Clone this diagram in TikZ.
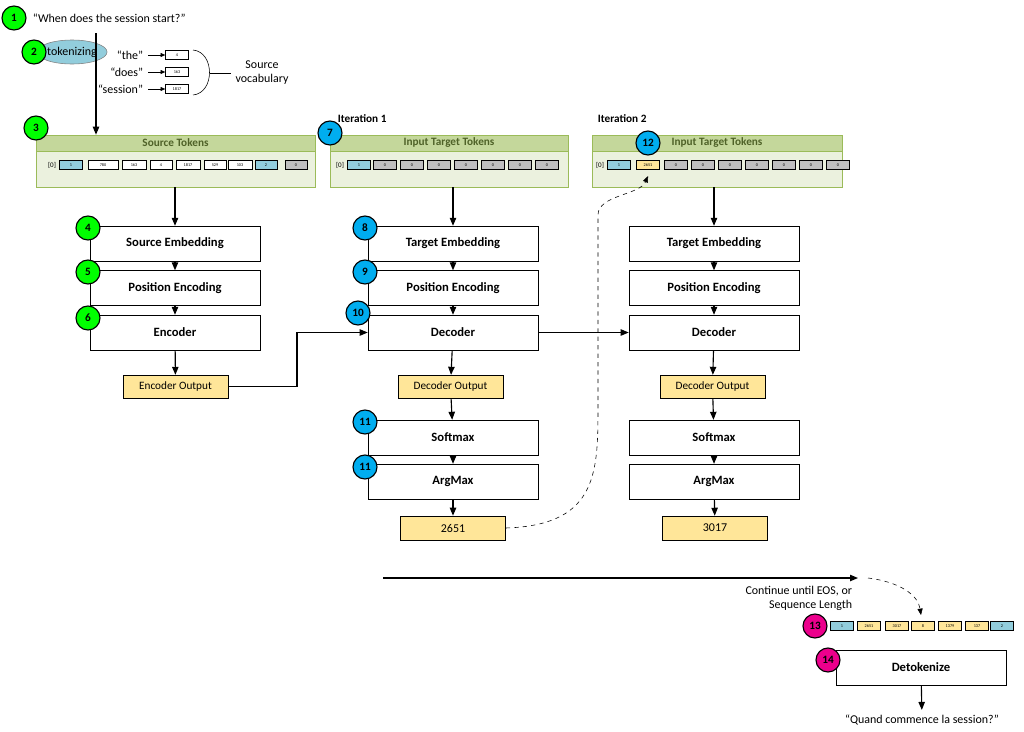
\documentclass[tikz,border=0pt]{standalone}
\usepackage{fontspec}
\setmainfont{Carlito}
\usetikzlibrary{arrows.meta, shapes.geometric}
\definecolor{panelfill}{HTML}{EBF1DE}
\definecolor{panelhead}{HTML}{C4D79B}
\definecolor{paneledge}{HTML}{9BBB59}
\definecolor{headtext}{HTML}{4F6228}
\definecolor{tokblue}{HTML}{92CDDC}
\definecolor{tokgray}{HTML}{BFBFBF}
\definecolor{tokyellow}{HTML}{FFE699}
\tikzset{
  stepmark/.style={circle, draw, thick, minimum size=6mm, inner sep=0pt, font=\bfseries\fontsize{8}{9}\selectfont},
  green step/.style={stepmark, fill=green},
  cyan step/.style={stepmark, fill=cyan},
  pink step/.style={stepmark, fill=magenta},
  block/.style={rectangle, draw, minimum width=4.25cm, minimum height=0.87cm, font=\bfseries\fontsize{9}{10}\selectfont},
  output/.style={rectangle, draw, fill=tokyellow, minimum width=2.63cm, minimum height=0.57cm, font=\fontsize{8}{9}\selectfont},
  tok/.style={rectangle, draw, minimum width=0.57cm, minimum height=0.22cm, inner sep=0pt, font=\fontsize{3}{3}\selectfont},
  arrow/.style={thick, -{Triangle[length=2mm, width=1.6mm]}},
  thin arrow/.style={-{Triangle[length=1.2mm, width=1mm]}},
  dash arrow/.style={dashed, -{Triangle[length=1.6mm, width=1.3mm]}},
  panel/.style={draw=paneledge, fill=panelfill},
  head/.style={draw=paneledge, fill=panelhead, font=\bfseries\fontsize{8}{9}\selectfont, text=headtext}
}
\begin{document}
\begin{tikzpicture}[x=0.025cm, y=-0.025cm, font=\fontsize{8.5}{10}\selectfont]
\useasboundingbox (0,0) rectangle (1024,731);

% input sentence and tokenizing
\node[green step] (s1) at (14,18) {1};
\node[anchor=west] (sentence) at (28,18) {“When does the session start?”};
\coordinate (srcin) at (96,33);
\node[ellipse, draw=gray, fill=tokblue, minimum width=1.55cm, minimum height=0.6cm, inner sep=0pt] (tokenize) at (72,52) {tokenizing};
\node[green step] (s2) at (34,52) {2};

% vocabulary lookups
\node[anchor=east] (wthe) at (148,55) {“the”};
\node[anchor=east] (wdoes) at (148,72) {“does”};
\node[anchor=east] (wsession) at (148,89) {“session”};
\node[tok, fill=white] (vthe) at (177,55) {4};
\node[tok, fill=white] (vdoes) at (177,72) {163};
\node[tok, fill=white] (vsession) at (177,89) {1817};
\draw[thin arrow] (wthe) -- (vthe);
\draw[thin arrow] (wdoes) -- (vdoes);
\draw[thin arrow] (wsession) -- (vsession);
\draw (193,50) .. controls (215,52) and (215,93) .. (193,95);
\node[align=center] (vocab) at (262,73) {Source\\vocabulary};
\draw (210,73) -- (vocab.west);

% source tokens panel
\draw[panel] (36,151) rectangle (315,187);
\node[head, minimum width=6.98cm, minimum height=0.4cm, inner sep=0pt] (srctok) at (175.5,143) {Source Tokens};
\node[green step] (s3) at (36,128) {3};
\node[font=\fontsize{5}{5}\selectfont] at (52,165) {[0]};
\foreach \x/\w/\c/\v in {71/23/tokblue/1, 103/30/white/780, 134/24/white/163, 161/22/white/4, 188/24/white/1817, 215/22/white/529, 240/24/white/103, 266/22/tokblue/2, 296/22/tokgray/0}
  \node[tok, fill=\c, minimum width=\w*0.025cm] at (\x,165) {\v};
\draw[arrow] (srcin) -- (srctok.north -| srcin);

% encoder column
\node[block] (srcemb) at (175,243.5) {Source Embedding};
\node[block] (srcpos) at (175,288) {Position Encoding};
\node[block] (encoder) at (175,332.5) {Encoder};
\node[output] (encout) at (175.5,386.5) {Encoder Output};
\node[green step] (s4) at (88,228) {4};
\node[green step] (s5) at (88,272) {5};
\node[green step] (s6) at (88,318) {6};
\draw[arrow] (175,187) -- (srcemb);
\draw[arrow] (srcemb) -- (srcpos);
\draw[arrow] (srcpos) -- (encoder);
\draw[arrow] (encoder) -- (encout);

% iteration 1
\node[anchor=west, font=\bfseries\fontsize{8}{9}\selectfont] (iter1) at (333,119) {Iteration 1};
\draw[panel] (330,151) rectangle (568,187);
\node[head, minimum width=5.95cm, minimum height=0.4cm, inner sep=0pt] (tgttok) at (449,143) {Input Target Tokens};
\node[cyan step] (s7) at (330,133) {7};
\node[font=\fontsize{5}{5}\selectfont] at (340,165) {[0]};
\node[tok, fill=tokblue] at (359,165) {1};
\foreach \i in {0,...,6}
  \node[tok, fill=tokgray] at (385+\i*27,165) {0};

\node[block] (tgtemb) at (453,243.5) {Target Embedding};
\node[block] (tgtpos) at (453,288) {Position Encoding};
\node[block] (decoder) at (453,332.5) {Decoder};
\node[output] (decout) at (450.5,386.5) {Decoder Output};
\node[block] (softmax) at (453,437.5) {Softmax};
\node[block] (argmax) at (453,481.5) {ArgMax};
\node[output, font=\fontsize{8.5}{10}\selectfont, minimum height=0.6cm] (pred1) at (453,528) {2651};
\node[cyan step] (s8) at (365,228) {8};
\node[cyan step] (s9) at (365,272) {9};
\node[cyan step] (s10) at (358,313) {10};
\node[cyan step] (s11a) at (365,422) {11};
\node[cyan step] (s11b) at (365,467) {11};
\draw[arrow] (453,187) -- (tgtemb);
\draw[arrow] (tgtemb) -- (tgtpos);
\draw[arrow] (tgtpos) -- (decoder);
\draw[arrow] (decoder) -- (decout);
\draw[arrow] (decout) -- (softmax);
\draw[arrow] (softmax) -- (argmax);
\draw[arrow] (argmax) -- (pred1);
\draw[arrow] (encout.east) -- (297,386.5) -- (297,332.5) -- (decoder.west);

% iteration 2
\node[anchor=west, font=\bfseries\fontsize{8}{9}\selectfont] (iter2) at (593,119) {Iteration 2};
\draw[panel] (592,151) rectangle (842,187);
\node[head, minimum width=6.25cm, minimum height=0.4cm, inner sep=0pt] (tgttok2) at (717,143) {Input Target Tokens};
\node[cyan step] (s12) at (648,143) {12};
\node[font=\fontsize{5}{5}\selectfont] at (600,165) {[0]};
\node[tok, fill=tokblue] (t2a) at (619,165) {1};
\node[tok, fill=tokyellow] (t2b) at (648,165) {2651};
\foreach \i in {0,...,6}
  \node[tok, fill=tokgray] at (676+\i*27,165) {0};

\node[block] (tgtemb2) at (714,243.5) {Target Embedding};
\node[block] (tgtpos2) at (714,288) {Position Encoding};
\node[block] (decoder2) at (714,332.5) {Decoder};
\node[output] (decout2) at (712.5,386.5) {Decoder Output};
\node[block] (softmax2) at (714,437.5) {Softmax};
\node[block] (argmax2) at (714,481.5) {ArgMax};
\node[output, font=\fontsize{8.5}{10}\selectfont, minimum height=0.6cm] (pred2) at (715,528) {3017};
\draw[arrow] (714,187) -- (tgtemb2);
\draw[arrow] (tgtemb2) -- (tgtpos2);
\draw[arrow] (tgtpos2) -- (decoder2);
\draw[arrow] (decoder2) -- (decout2);
\draw[arrow] (decout2) -- (softmax2);
\draw[arrow] (softmax2) -- (argmax2);
\draw[arrow] (argmax2) -- (pred2);
\draw[arrow] (decoder) -- (decoder2);
\draw[dash arrow] (pred1.east) .. controls (600,525) and (598,470) .. (598,400)
  -- (598,215) .. controls (598,195) and (640,195) .. (648,176);

% continue and result
\coordinate (contstart) at (383,578);
\coordinate (contend) at (858,578);
\draw[arrow] (contstart) -- (contend);
\node[anchor=north east, align=right] (contlabel) at (857,581) {Continue until EOS, or\\Sequence Length};
\draw[dash arrow] (868,578) .. controls (900,582) and (918,595) .. (921,615);
\node[pink step] (s13) at (815,626) {13};
\foreach \x/\c/\v in {842/tokblue/1, 869/tokyellow/2651, 897/tokyellow/3017, 923/tokyellow/8, 950/tokyellow/1379, 977/tokyellow/137, 1002/tokblue/2}
  \node[tok, fill=\c] at (\x,626) {\v};
\node[block] (detok) at (921,667.5) {Detokenize};
\node[pink step] (s14) at (828,660) {14};
\node (answer) at (922,720) {“Quand commence la session?”};
\draw[arrow] (detok) -- (answer);
\end{tikzpicture}
\end{document}
